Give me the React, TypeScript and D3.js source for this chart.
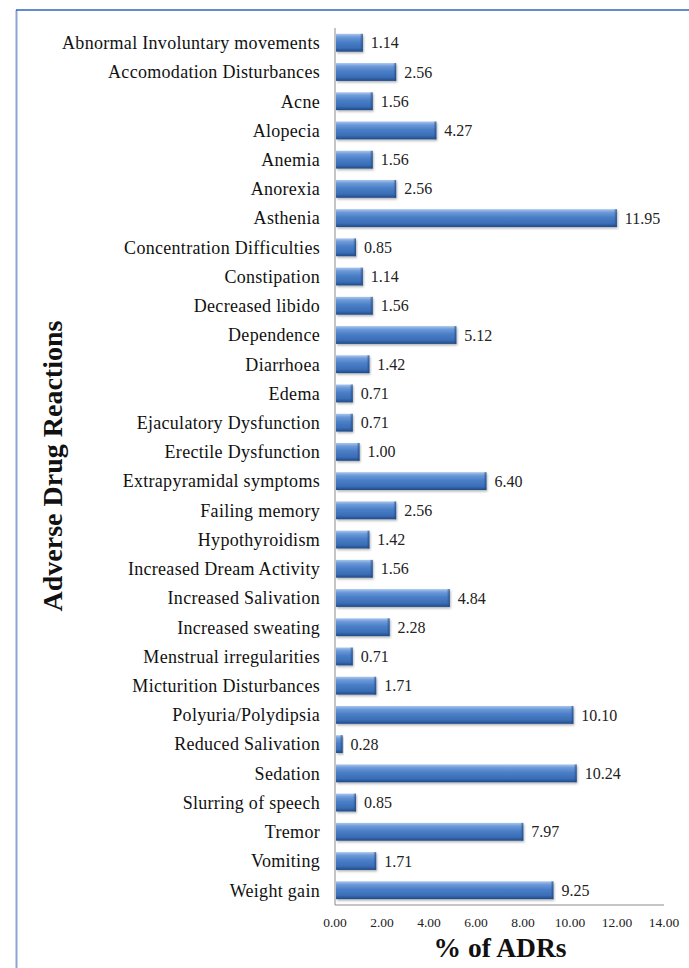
import React from "react";
import * as d3 from "d3";

const categories = [
  "Abnormal Involuntary movements",
  "Accomodation Disturbances",
  "Acne",
  "Alopecia",
  "Anemia",
  "Anorexia",
  "Asthenia",
  "Concentration Difficulties",
  "Constipation",
  "Decreased libido",
  "Dependence",
  "Diarrhoea",
  "Edema",
  "Ejaculatory Dysfunction",
  "Erectile Dysfunction",
  "Extrapyramidal symptoms",
  "Failing memory",
  "Hypothyroidism",
  "Increased Dream Activity",
  "Increased Salivation",
  "Increased sweating",
  "Menstrual irregularities",
  "Micturition Disturbances",
  "Polyuria/Polydipsia",
  "Reduced Salivation",
  "Sedation",
  "Slurring of speech",
  "Tremor",
  "Vomiting",
  "Weight gain",
];

const values = [
  1.14, 2.56, 1.56, 4.27, 1.56, 2.56, 11.95, 0.85, 1.14, 1.56, 5.12, 1.42, 0.71,
  0.71, 1.0, 6.4, 2.56, 1.42, 1.56, 4.84, 2.28, 0.71, 1.71, 10.1, 0.28, 10.24,
  0.85, 7.97, 1.71, 9.25,
];

const xTicks = [0, 2, 4, 6, 8, 10, 12, 14];

const xTitle = "% of ADRs";
const yTitle = "Adverse Drug Reactions";

export default function App() {
  const W = 689;
  const H = 968;
  const left = 335;
  const right = 664;
  const top = 28;
  const bottom = 905;
  const font = "'Liberation Serif', 'Times New Roman', serif";

  const x = d3.scaleLinear().domain([0, 14]).range([left, right]);
  const y = d3
    .scaleBand<string>()
    .domain(categories)
    .range([top, bottom])
    .paddingInner(0.39)
    .paddingOuter(0.2);
  const bw = y.bandwidth();

  return (
    <svg
      width={W}
      height={H}
      style={{ position: "absolute", left: 0, top: 0, background: "#fff" }}
    >
      <defs>
        <linearGradient id="barGrad" x1="0" y1="0" x2="0" y2="1">
          <stop offset="0" stopColor="#a9c6ee" />
          <stop offset="0.18" stopColor="#6d9ad8" />
          <stop offset="0.45" stopColor="#4a7fc8" />
          <stop offset="0.8" stopColor="#3a6db5" />
          <stop offset="1" stopColor="#1f4a86" />
        </linearGradient>
        <linearGradient id="endGrad" x1="0" y1="0" x2="1" y2="0">
          <stop offset="0" stopColor="#2d5a9a" stopOpacity="0" />
          <stop offset="1" stopColor="#1c3f73" stopOpacity="0.8" />
        </linearGradient>
        <filter id="shadow" x="-5%" y="-20%" width="115%" height="160%">
          <feDropShadow dx="1" dy="1.5" stdDeviation="1" floodColor="#000" floodOpacity="0.3" />
        </filter>
      </defs>

      {/* frame */}
      <line x1={16.5} y1={10} x2={16.5} y2={H} stroke="#8ba5d3" strokeWidth={2} />
      <line x1={16} y1={10} x2={W} y2={10} stroke="#2f63b9" strokeWidth={1.6} />

      {/* bars */}
      {categories.map((c, i) => {
        const y0 = y(c)!;
        const x1 = x(values[i]);
        const w = Math.max(1, x1 - left);
        return (
          <g key={c}>
            <rect
              x={left + 1}
              y={y0}
              width={w}
              height={bw}
              fill="url(#barGrad)"
              filter="url(#shadow)"
            />
            <rect x={left + 1 + Math.max(0, w - 3)} y={y0} width={Math.min(3, w)} height={bw} fill="url(#endGrad)" />
          </g>
        );
      })}

      {/* axes */}
      <line x1={left} y1={top} x2={left} y2={bottom} stroke="#8c8c8c" strokeWidth={1} />
      <line x1={left} y1={bottom} x2={right} y2={bottom} stroke="#8c8c8c" strokeWidth={1} />

      {/* category labels */}
      {categories.map((c) => (
        <text
          key={"l" + c}
          x={320}
          y={y(c)! + bw / 2}
          dy="0.35em"
          textAnchor="end"
          fontFamily={font}
          fontSize={18}
          letterSpacing={0.3}
          fill="#111"
        >
          {c}
        </text>
      ))}

      {/* value labels */}
      {categories.map((c, i) => (
        <text
          key={"v" + c}
          x={x(values[i]) + 9}
          y={y(c)! + bw / 2}
          dy="0.35em"
          fontFamily={font}
          fontSize={16}
          fill="#222"
        >
          {values[i].toFixed(2)}
        </text>
      ))}

      {/* x ticks */}
      {xTicks.map((t) => (
        <text
          key={"t" + t}
          x={x(t)}
          y={927}
          textAnchor="middle"
          fontFamily={font}
          fontSize={13.5}
          fill="#222"
        >
          {t.toFixed(2)}
        </text>
      ))}

      <text
        x={500}
        y={957}
        textAnchor="middle"
        fontFamily={font}
        fontSize={27.5}
        fontWeight="bold"
        fill="#111"
      >
        {xTitle}
      </text>
      <text
        transform={`translate(62,466) rotate(-90)`}
        textAnchor="middle"
        fontFamily={font}
        fontSize={28}
        fontWeight="bold"
        fill="#111"
      >
        {yTitle}
      </text>
    </svg>
  );
}
